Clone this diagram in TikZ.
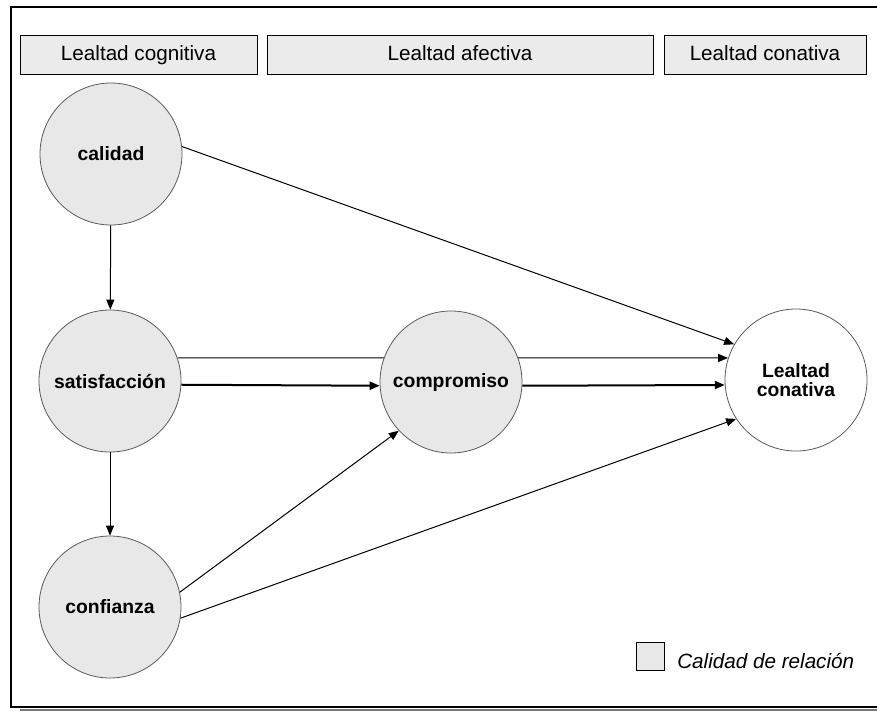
\documentclass[tikz,border=0pt]{standalone}
\usepackage{fontspec}
\setmainfont{Liberation Sans}
\usetikzlibrary{arrows.meta,backgrounds}
\definecolor{bubble}{RGB}{232,232,232}
\definecolor{headfill}{RGB}{235,235,235}
\definecolor{rimgray}{RGB}{90,90,90}
\begin{document}
\begin{tikzpicture}[x=0.75pt,y=0.75pt,yscale=-1,xscale=1,
  construct/.style={circle,draw=rimgray,line width=0.6pt,fill=bubble,minimum size=106.5pt,inner sep=0pt,font=\fontsize{14.5}{16}\selectfont\bfseries,align=center},
  stagebox/.style={draw,line width=0.6pt,fill=headfill,minimum height=29.25pt,inner sep=0pt,text height=11pt,text depth=2pt,font=\fontsize{15.5}{17}\selectfont},
  tip/.style={-{Triangle[length=7.5pt,width=6pt]},line width=0.75pt},
  boldtip/.style={-{Triangle[length=7.5pt,width=6pt]},line width=1.5pt}]
\useasboundingbox (0,0) rectangle (877,711);

%Frame
\draw [line width=0.8pt] (877,7) -- (11,7) -- (11,707) -- (877,707) ;
\draw [draw={rgb, 255:red, 120; green, 120; blue, 120},line width=2pt] (20,710) -- (877,710) ;

% Header boxes
\node [stagebox,minimum width=177.75pt] (cognitiva) at (138.5,54.5) {Lealtad cognitiva};
\node [stagebox,minimum width=289.5pt] (afectiva) at (460,54.5) {Lealtad afectiva};
\node [stagebox,minimum width=151.5pt] (conativa) at (765,54.5) {Lealtad conativa};

%Shape: Circle
\node [construct] (calidad) at (111,154) {calidad};
\node [construct] (satisf) at (110,381) {satisfacción};
\node [construct] (confianza) at (110,607) {confianza};
\node [construct] (compromiso) at (451,382) {compromiso};
\node [construct,fill=white] (lealtad) at (796,380) {Lealtad\\[-2pt]conativa};

%Straight Lines
\draw [tip] (calidad) -- (satisf) ;
\draw [tip] (satisf) -- (confianza) ;
\draw [tip] (calidad.6) -- (lealtad.150) ;
\begin{scope}[on background layer]
\draw [tip] (satisf.19) -- (lealtad.162) ;
\end{scope}
\draw [boldtip] (satisf.-3) -- (compromiso.183) ;
\draw [boldtip] (compromiso.-3) -- (lealtad.184) ;
\draw [tip] (confianza.12) -- (compromiso.223) ;
\draw [tip] (confianza.-9) -- (lealtad.213) ;

% Legend
\node [draw,line width=0.6pt,fill=bubble,minimum size=21pt,inner sep=0pt] (legbox) at (650,656.5) {};
\node [anchor=west,inner sep=0pt,font=\fontsize{15.5}{17}\selectfont\itshape] (legtext) at (677,661) {Calidad de relación};

\end{tikzpicture}
\end{document}
